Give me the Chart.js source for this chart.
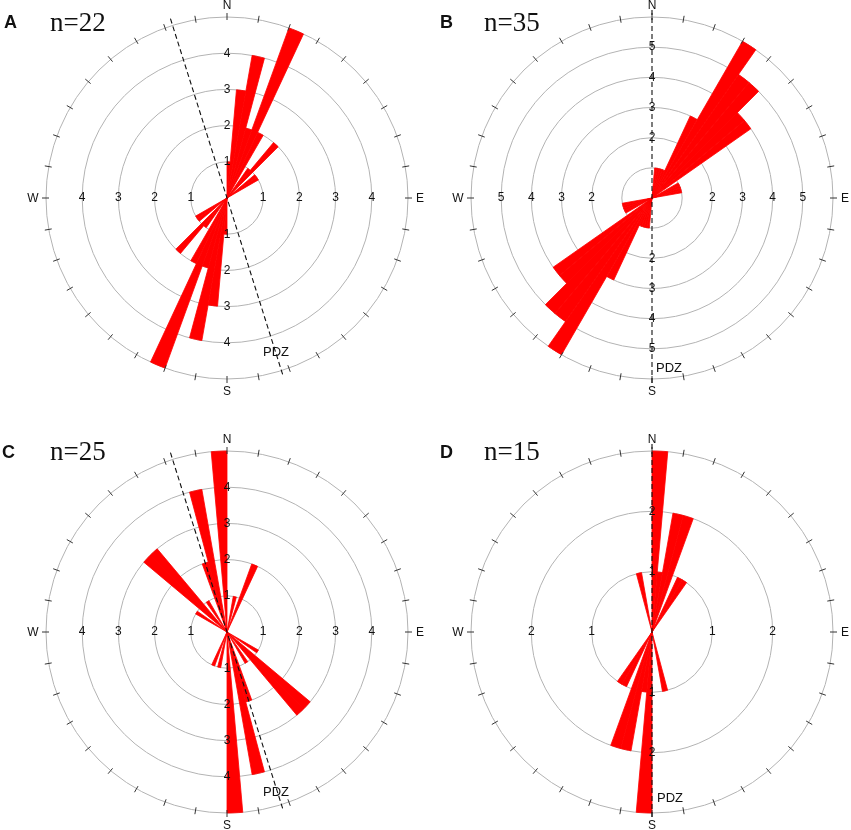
<!DOCTYPE html>
<html>
<head>
<meta charset="utf-8">
<script src="https://cdn.jsdelivr.net/npm/chart.js@4.4.1/dist/chart.umd.min.js"></script>
<style>
  html, body { margin: 0; padding: 0; background: #ffffff; }
  #wrap { position: relative; width: 851px; height: 830px; background: #ffffff; }
  #wrap canvas { position: absolute; }
</style>
</head>
<body>
<div id="wrap">
  <canvas id="cA" width="425" height="415" style="left:0px;top:0px;"></canvas>
  <canvas id="cB" width="426" height="415" style="left:425px;top:0px;"></canvas>
  <canvas id="cC" width="425" height="415" style="left:0px;top:415px;"></canvas>
  <canvas id="cD" width="426" height="415" style="left:425px;top:415px;"></canvas>
</div>
<script>
// ---- DATA ----
// 5-degree azimuth bins, clockwise from North: bin i covers [5i, 5i+5) degrees
const binLabels = Array.from({length: 72}, (_, i) => (i * 5) + '-' + (i * 5 + 5) + '°');

const panelLetters = ['A', 'B', 'C', 'D'];
const panelCounts = ['n=22', 'n=35', 'n=25', 'n=15'];
const compassLabels = ['N', 'E', 'S', 'W'];

// counts per bin (72 values each)
const countsA = [
  1, 3, 4, 2, 5, 2, 0, 1, 2, 0, 1, 1,
  0, 0, 0, 0, 0, 0, 0, 0, 0, 0, 0, 0,
  0, 0, 0, 0, 0, 0, 0, 0, 0, 0, 0, 0,
  1, 3, 4, 2, 5, 2, 0, 1, 2, 0, 1, 1,
  0, 0, 0, 0, 0, 0, 0, 0, 0, 0, 0, 0,
  0, 0, 0, 0, 0, 0, 0, 0, 0, 0, 0, 0
];
const countsB = [
  0, 1, 1, 1, 1, 3, 6, 5, 5, 4, 4, 0,
  1, 1, 1, 1, 0, 0, 0, 0, 0, 0, 0, 0,
  0, 0, 0, 0, 0, 0, 0, 0, 0, 0, 0, 0,
  0, 1, 1, 1, 1, 3, 6, 5, 5, 4, 4, 0,
  1, 1, 1, 1, 0, 0, 0, 0, 0, 0, 0, 0,
  0, 0, 0, 0, 0, 0, 0, 0, 0, 0, 0, 0
];
const countsC = [
  0, 0, 1, 0, 2, 0, 0, 0, 0, 0, 0, 0,
  0, 0, 0, 0, 0, 0, 0, 0, 0, 0, 0, 0,
  1, 0, 3, 3, 0, 1, 0, 0, 2, 4, 0, 5,
  0, 0, 1, 0, 1, 0, 0, 0, 0, 0, 0, 0,
  0, 0, 0, 0, 0, 0, 0, 0, 0, 0, 0, 0,
  1, 0, 3, 3, 0, 1, 0, 0, 2, 4, 0, 5
];
const countsD = [
  3, 1, 2, 2, 0, 1, 1, 0, 0, 0, 0, 0,
  0, 0, 0, 0, 0, 0, 0, 0, 0, 0, 0, 0,
  0, 0, 0, 0, 0, 0, 0, 0, 0, 1, 0, 0,
  3, 1, 2, 2, 0, 1, 1, 0, 0, 0, 0, 0,
  0, 0, 0, 0, 0, 0, 0, 0, 0, 0, 0, 0,
  0, 0, 0, 0, 0, 0, 0, 0, 0, 1, 0, 0
];

// radial axis maxima and ring tick labels
const maxA = 5, maxB = 6, maxC = 5, maxD = 3;
const ringLabelsA = [1, 2, 3, 4];
const ringLabelsB = [2, 3, 4, 5];
const ringLabelsC = [1, 2, 3, 4];
const ringLabelsD = [1, 2];

// PDZ trend (azimuth, degrees)
const pdzA = 342.5, pdzB = 0, pdzC = 342.5, pdzD = 0;
const pdzText = 'PDZ';

// ---- DRAWING ----
const rad = d => d * Math.PI / 180;

const roseDecor = {
  id: 'roseDecor',
  afterDatasetsDraw(chart, args, o) {
    const s = chart.scales.r;
    const ctx = chart.ctx;
    const cx = s.xCenter, cy = s.yCenter, R = s.drawingArea;
    const pt = (deg, r) => [cx + r * Math.sin(rad(deg)), cy - r * Math.cos(rad(deg))];
    ctx.save();

    // outer-circle tick marks every 10 degrees
    ctx.strokeStyle = '#333';
    ctx.lineWidth = 1;
    for (let a = 0; a < 360; a += 10) {
      const p1 = pt(a, R - 3), p2 = pt(a, R + 4);
      ctx.beginPath(); ctx.moveTo(p1[0], p1[1]); ctx.lineTo(p2[0], p2[1]); ctx.stroke();
    }

    // PDZ dashed line
    ctx.strokeStyle = '#111';
    ctx.lineWidth = 1.1;
    ctx.setLineDash([5, 3]);
    const q1 = pt(o.pdz, R + 7), q2 = pt(o.pdz + 180, R + 7);
    ctx.beginPath(); ctx.moveTo(q1[0], q1[1]); ctx.lineTo(q2[0], q2[1]); ctx.stroke();
    ctx.setLineDash([]);

    // ring value labels in the four directions
    ctx.fillStyle = '#111';
    ctx.font = '12px "Liberation Sans", Arial, sans-serif';
    ctx.textAlign = 'center';
    ctx.textBaseline = 'middle';
    o.rings.forEach(v => {
      const d = s.getDistanceFromCenterForValue(v);
      [0, 90, 180, 270].forEach(a => {
        const p = pt(a, d);
        ctx.fillText(String(v), p[0], p[1]);
      });
    });

    // compass letters
    ctx.font = '12px "Liberation Sans", Arial, sans-serif';
    ctx.fillText(compassLabels[0], cx, cy - R - 11);
    ctx.fillText(compassLabels[1], cx + R + 12, cy + 1);
    ctx.fillText(compassLabels[2], cx, cy + R + 13);
    ctx.fillText(compassLabels[3], cx - R - 13, cy + 1);

    // PDZ label
    ctx.font = '13px "Liberation Sans", Arial, sans-serif';
    ctx.fillText(pdzText, cx + o.pdzLabel[0], cy + o.pdzLabel[1]);

    // panel title
    ctx.textAlign = 'left';
    ctx.textBaseline = 'alphabetic';
    ctx.font = 'bold 18px "Liberation Sans", Arial, sans-serif';
    ctx.fillText(o.letter, o.letterPos[0], o.letterPos[1]);
    ctx.font = '27px "Liberation Serif", "Times New Roman", serif';
    ctx.fillText(o.count, o.countPos[0], o.countPos[1]);

    ctx.restore();
  }
};

function makeRose(id, counts, max, rings, pdz, pad, deco) {
  return new Chart(document.getElementById(id), {
    type: 'polarArea',
    data: {
      labels: binLabels,
      datasets: [{
        data: counts,
        backgroundColor: '#ff0000',
        borderColor: '#ff0000',
        borderWidth: 0.8
      }]
    },
    options: {
      responsive: false,
      animation: false,
      layout: { padding: pad },
      plugins: {
        legend: { display: false },
        tooltip: { enabled: false },
        roseDecor: Object.assign({ rings: rings, pdz: pdz }, deco)
      },
      scales: {
        r: {
          min: 0,
          max: max,
          startAngle: 0,
          ticks: { display: false, stepSize: 1 },
          grid: { color: '#b3b3b3', lineWidth: 1 },
          angleLines: { display: false },
          pointLabels: { display: false }
        }
      }
    },
    plugins: [roseDecor]
  });
}

const padTop = { left: 46, right: 17, top: 17, bottom: 36 };
const padBot = { left: 46, right: 17, top: 36, bottom: 17 };

makeRose('cA', countsA, maxA, ringLabelsA, pdzA, padTop,
  { letter: panelLetters[0], count: panelCounts[0], letterPos: [4, 28], countPos: [50, 31], pdzLabel: [49, 154] });
makeRose('cB', countsB, maxB, ringLabelsB, pdzB, { left: 46, right: 18, top: 17, bottom: 36 },
  { letter: panelLetters[1], count: panelCounts[1], letterPos: [15, 28], countPos: [59, 31], pdzLabel: [17, 170] });
makeRose('cC', countsC, maxC, ringLabelsC, pdzC, padBot,
  { letter: panelLetters[2], count: panelCounts[2], letterPos: [2, 43], countPos: [50, 45], pdzLabel: [49, 160] });
makeRose('cD', countsD, maxD, ringLabelsD, pdzD, { left: 46, right: 18, top: 36, bottom: 17 },
  { letter: panelLetters[3], count: panelCounts[3], letterPos: [15, 43], countPos: [59, 45], pdzLabel: [18, 166] });
</script>
</body>
</html>
